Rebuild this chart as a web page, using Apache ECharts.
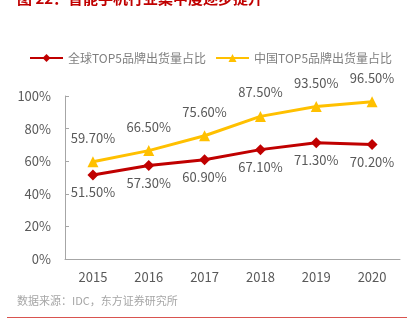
<!DOCTYPE html>
<html><head><meta charset="utf-8">
<script src="https://cdn.jsdelivr.net/npm/echarts@6/dist/echarts.min.js"></script>
<style>html,body{margin:0;padding:0;background:#fff}#c{width:419px;height:331px}</style>
</head><body><div id="c"></div>
<script>
var categories = ['2015','2016','2017','2018','2019','2020'];
var globalTop5 = [51.5, 57.3, 60.9, 67.1, 71.3, 70.2];
var chinaTop5 = [59.7, 66.5, 75.6, 87.5, 93.5, 96.5];
var yTicks = [0, 20, 40, 60, 80, 100];
var seriesNames = ['全球TOP5品牌出货量占比', '中国TOP5品牌出货量占比'];
var font = '"Noto Sans CJK SC", "Noto Sans", sans-serif';
var chart = echarts.init(document.getElementById('c'));
chart.setOption({
  animation: false,
  textStyle: {fontFamily: font},
  legend: {
    left: 24, top: 47, width: 395, itemWidth: 33, itemHeight: 10, itemGap: 9,
    textStyle: {color: '#7f7f7f', fontSize: 12, fontFamily: font},
    data: seriesNames
  },
  grid: {left: 65, right: 19, top: 96, bottom: 72},
  xAxis: {
    type: 'category', data: categories, boundaryGap: true,
    axisLine: {lineStyle: {color: '#a6a6a6'}},
    axisTick: {show: false},
    axisLabel: {color: '#595959', fontSize: 13, margin: 12, fontFamily: font}
  },
  yAxis: {
    type: 'value', min: 0, max: 100, interval: 20,
    axisLine: {show: true, lineStyle: {color: '#a6a6a6'}},
    axisTick: {show: true, inside: true, length: 4, lineStyle: {color: '#a6a6a6'}},
    splitLine: {show: false},
    axisLabel: {color: '#595959', fontSize: 13, margin: 14, fontFamily: font,
      formatter: function(v){ return yTicks.indexOf(v) >= 0 ? v + '%' : ''; }}
  },
  series: [
    {name: seriesNames[0], type: 'line', data: globalTop5, symbol: 'diamond', symbolSize: 11,
     color: '#C00000', lineStyle: {width: 3, color: '#C00000'}, itemStyle: {color: '#C00000'},
     label: {show: true, position: 'bottom', distance: 5, color: '#595959', fontSize: 13, fontFamily: font,
       formatter: function(p){ return p.value.toFixed(2) + '%'; }}},
    {name: seriesNames[1], type: 'line', data: chinaTop5, symbol: 'triangle', symbolSize: 11,
     color: '#FFC000', lineStyle: {width: 3, color: '#FFC000'}, itemStyle: {color: '#FFC000'},
     label: {show: true, position: 'top', distance: 12, color: '#595959', fontSize: 13, fontFamily: font,
       formatter: function(p){ return p.value.toFixed(2) + '%'; }}}
  ],
  graphic: [
    {type: 'text', left: 17, top: -9, style: {text: '图 22：智能手机行业集中度逐步提升', fill: '#C00000',
      font: 'bold 15px ' + font}},
    {type: 'text', left: 17, top: 295, style: {text: '数据来源：IDC，东方证券研究所', fill: '#a6a6a6',
      font: '11px ' + font}},
    {type: 'rect', shape: {x: 7, y: 317, width: 400, height: 1}, style: {fill: '#d9534f'}}
  ]
});
</script></body></html>
